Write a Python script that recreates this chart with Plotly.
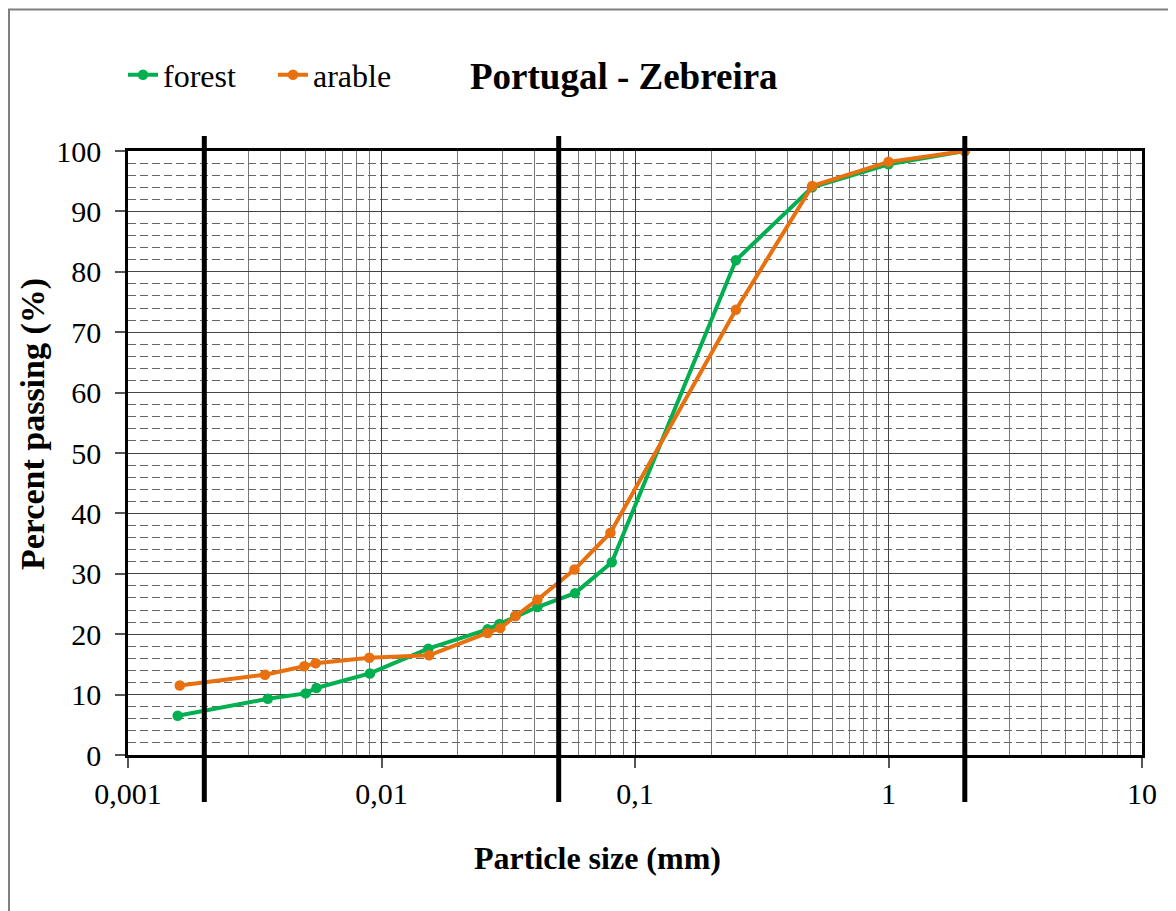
import plotly.graph_objects as go

# ---- data ----
forest_size = [0.00157, 0.00356, 0.00502, 0.00554, 0.0090, 0.0153, 0.0262, 0.0292, 0.0337, 0.0412, 0.058, 0.081, 0.25, 0.5, 1.0, 2.0]
forest_pass = [6.5, 9.3, 10.2, 11.1, 13.5, 17.6, 20.8, 21.7, 23.0, 24.5, 26.8, 31.9, 81.9, 94.0, 97.8, 100.0]

arable_size = [0.0016, 0.00347, 0.00496, 0.0055, 0.00895, 0.0154, 0.0262, 0.0294, 0.0338, 0.0412, 0.0577, 0.080, 0.25, 0.5, 1.0, 2.0]
arable_pass = [11.5, 13.3, 14.7, 15.2, 16.1, 16.5, 20.2, 21.0, 23.0, 25.7, 30.7, 36.8, 73.7, 94.2, 98.2, 100.0]

boundaries = [0.002, 0.05, 2.0]          # clay/silt, silt/sand, sand/gravel limits
x_tickvals = [0.001, 0.01, 0.1, 1, 10]
x_ticktext = ["0,001", "0,01", "0,1", "1", "10"]
x_minor = [k * 10.0 ** e for e in range(-3, 1) for k in range(2, 10)]

title_text = "Portugal - Zebreira"
x_title = "Particle size (mm)"
y_title = "Percent passing (%)"

GREEN = "#00B050"
ORANGE = "#E8700E"
FONT = "Liberation Serif, Times New Roman, serif"

OFF = 8  # page offset of the figure
W, H = 1176, 911
L, R, T, B = 120, 42, 143, 164
PW, PH = W - L - R, H - T - B


def px_x(p):
    return (p - OFF - L) / PW


def px_y(p):
    return (H - B - (p - OFF)) / PH


fig = go.Figure()
fig.add_trace(go.Scatter(
    x=forest_size, y=forest_pass, name="forest", mode="lines+markers",
    line=dict(color=GREEN, width=4), marker=dict(color=GREEN, size=10.5)))
fig.add_trace(go.Scatter(
    x=arable_size, y=arable_pass, name="arable", mode="lines+markers",
    line=dict(color=ORANGE, width=4), marker=dict(color=ORANGE, size=10.5)))

shapes = []
for b in boundaries:
    shapes.append(dict(type="line", xref="x", yref="paper", x0=b, x1=b,
                       y0=px_y(802), y1=px_y(136),
                       line=dict(color="black", width=5), layer="above"))
# outer chart frame (only top and left edges fall inside the page)
shapes.append(dict(type="rect", xref="paper", yref="paper",
                   x0=px_x(9), x1=px_x(1220), y0=px_y(960), y1=px_y(9.5),
                   line=dict(color="#7f7f7f", width=2), layer="below"))

fig.update_layout(
    width=W, height=H,
    margin=dict(l=L, r=R, t=T, b=B),
    paper_bgcolor="white", plot_bgcolor="white",
    font=dict(family=FONT, color="black", size=29),
    showlegend=True,
    legend=dict(orientation="h", x=px_x(123), y=px_y(75), xanchor="left", yanchor="middle",
                font=dict(size=32, family=FONT), bgcolor="rgba(0,0,0,0)",
                entrywidth=105, entrywidthmode="pixels",
                itemwidth=30, tracegroupgap=0),
    shapes=shapes,
    annotations=[
        dict(text="<b>" + title_text + "</b>", xref="paper", yref="paper",
             x=px_x(624), y=px_y(77), showarrow=False, xanchor="center", yanchor="middle",
             font=dict(size=37, family=FONT)),
        dict(text="<b>" + x_title + "</b>", xref="paper", yref="paper",
             x=px_x(597), y=px_y(858), showarrow=False, xanchor="center", yanchor="middle",
             font=dict(size=32, family=FONT)),
        dict(text="<b>" + y_title + "</b>", xref="paper", yref="paper",
             x=px_x(33), y=px_y(424), showarrow=False, xanchor="center", yanchor="middle",
             textangle=-90, font=dict(size=34, family=FONT)),
    ],
)

fig.update_xaxes(
    type="log", range=[-3, 1],
    tickvals=x_tickvals, ticktext=x_ticktext,
    ticks="outside", ticklen=10, tickwidth=1.5, tickcolor="#555",
    tickfont=dict(size=30, family=FONT),
    showgrid=True, gridcolor="#444", gridwidth=1.3,
    minor=dict(tickvals=x_minor, showgrid=True, gridcolor="#777", gridwidth=1.3, ticks=""),
    showline=True, linecolor="black", linewidth=2.5, mirror=True,
    zeroline=False,
)
fig.update_yaxes(
    range=[0, 100], dtick=10,
    ticks="outside", ticklen=10, tickwidth=1.5, tickcolor="#555",
    tickfont=dict(size=30, family=FONT), ticklabelstandoff=8,
    showgrid=True, gridcolor="#444", gridwidth=1.3,
    minor=dict(dtick=2, showgrid=True, gridcolor="#666", gridwidth=1.3, griddash="8px,4px", ticks=""),
    showline=True, linecolor="black", linewidth=2.5, mirror=True,
    zeroline=False,
)

fig.write_html("out.html")
